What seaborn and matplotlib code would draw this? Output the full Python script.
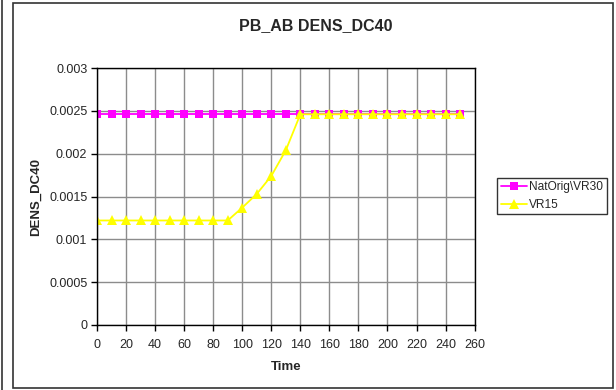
import numpy as np
import pandas as pd
import seaborn as sns
import matplotlib
matplotlib.use("Agg")
import matplotlib.pyplot as plt
from matplotlib.patches import Rectangle
from matplotlib.lines import Line2D

# values
time = [0, 10, 20, 30, 40, 50, 60, 70, 80, 90, 100, 110, 120, 130, 140,
        150, 160, 170, 180, 190, 200, 210, 220, 230, 240, 250]
natorig_vr30 = [0.00246] * 26
vr15 = [0.00122, 0.00122, 0.00122, 0.00122, 0.00122, 0.00122, 0.00122,
        0.00122, 0.00122, 0.00122, 0.00137, 0.00153, 0.00174, 0.00204,
        0.00246, 0.00246, 0.00246, 0.00246, 0.00246, 0.00246, 0.00246,
        0.00246, 0.00246, 0.00246, 0.00246, 0.00246]
series_names = ["NatOrig\\VR30", "VR15"]

df = pd.DataFrame({"Time": time * 2,
                   "DENS_DC40": natorig_vr30 + vr15,
                   "series": [series_names[0]] * len(time) + [series_names[1]] * len(time)})

sns.set_theme(style="white")
plt.rcParams["font.family"] = ["Liberation Sans", "DejaVu Sans"]

fig = plt.figure(figsize=(6.16, 3.9), dpi=100)
ax = fig.add_axes([0.1575, 0.1667, 0.613, 0.6589])

styles = {"NatOrig\\VR30": ("#FF00FF", "s", 6),
          "VR15": ("#FFFF00", "^", 7)}
for name in series_names:
    color, mk, ms = styles[name]
    sns.lineplot(data=df[df["series"] == name], x="Time", y="DENS_DC40",
                 color=color, marker=mk, markersize=ms, markeredgewidth=0,
                 linewidth=1.3, ax=ax, label=name, legend=False)

ax.set_xlim(0, 260)
ax.set_ylim(0, 0.003)
ax.set_xticks(np.arange(0, 261, 20))
ax.set_yticks([0, 0.0005, 0.001, 0.0015, 0.002, 0.0025, 0.003])
ax.set_yticklabels(["0", "0.0005", "0.001", "0.0015", "0.002", "0.0025", "0.003"])
ax.grid(True, color="#8c8c8c", linewidth=1)
ax.set_axisbelow(True)
for s in ax.spines.values():
    s.set_color("black")
    s.set_linewidth(1)
ax.tick_params(axis="both", direction="out", length=4, width=1, color="black",
               labelsize=9, pad=3, bottom=True, left=True)
ax.tick_params(axis="x", pad=6)
ax.set_xlabel("Time", fontsize=9.5, fontweight="bold", labelpad=7)
ax.set_ylabel("DENS_DC40", fontsize=9.5, fontweight="bold", labelpad=5)
fig.text(0.513, 0.935, "PB_AB DENS_DC40", ha="center", va="center",
         fontsize=11.5, fontweight="bold")

handles = [Line2D([], [], color=styles[n][0], marker=styles[n][1],
                  markersize=styles[n][2], markeredgewidth=0, linewidth=1.3)
           for n in series_names]
leg = fig.legend(handles, series_names, loc="center left",
                 bbox_to_anchor=(497 / 616, 1 - 196 / 390), fontsize=8.6,
                 frameon=True, fancybox=False, edgecolor="black",
                 handlelength=2.2, handletextpad=0.2, borderpad=0.3,
                 labelspacing=0.45, borderaxespad=0)
leg.get_frame().set_linewidth(1)

# outer chart frame and the neighbouring line at the far left
fig.add_artist(Rectangle((12.5 / 616, 2.5 / 390), 600 / 616, 385 / 390,
                         transform=fig.transFigure, fill=False,
                         edgecolor="#333333", linewidth=1.2))
fig.add_artist(Line2D([2.5 / 616, 2.5 / 616], [0, 1], transform=fig.transFigure,
                      color="#333333", linewidth=1.2))

fig.savefig("out.png", dpi=100)
